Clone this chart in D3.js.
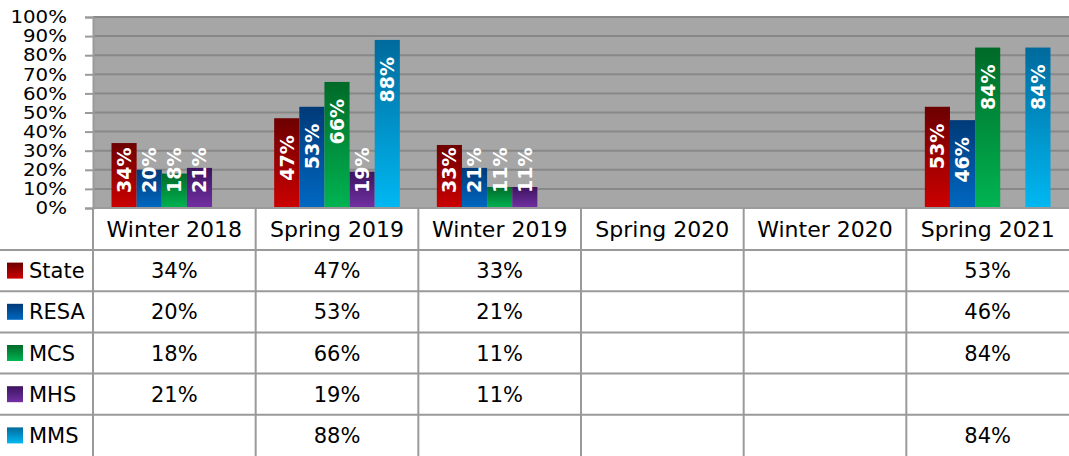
<!DOCTYPE html>
<html>
<head>
<meta charset="utf-8">
<script src="https://cdn.jsdelivr.net/npm/d3@7"></script>
<style>
  body { margin: 0; background: #fff; }
  svg { display: block; font-family: "DejaVu Sans", sans-serif; }
</style>
</head>
<body>
<svg id="chart"></svg>
<script>
// categories and series values (percent), null = no data
const categories = ["Winter 2018", "Spring 2019", "Winter 2019", "Spring 2020", "Winter 2020", "Spring 2021"];
const seriesNames = ["State", "RESA", "MCS", "MHS", "MMS"];
const stateVals = [34, 47, 33, null, null, 53];
const resaVals = [20, 53, 21, null, null, 46];
const mcsVals = [18, 66, 11, null, null, 84];
const mhsVals = [21, 19, 11, null, null, null];
const mmsVals = [null, 88, null, null, null, 84];
const yTicks = [0, 10, 20, 30, 40, 50, 60, 70, 80, 90, 100];

const allVals = [stateVals, resaVals, mcsVals, mhsVals, mmsVals];
// gradient stops per series: top (dark) -> bottom (bright)
const colorsTop = ["#6c0000", "#003a78", "#006a28", "#3c145e", "#006a9c"];
const colorsBottom = ["#cc0000", "#0068c2", "#00b452", "#7330a4", "#00b8f2"];

const width = 1069, height = 456;
const margin = {left: 93, right: 0, top: 17};
const plotBottom = 208;
const headerH = 42;
const rowH = (height - plotBottom - headerH) / seriesNames.length;
const lineCol = "#9a9a9a";

const svg = d3.select("#chart").attr("width", width).attr("height", height);

const defs = svg.append("defs");
seriesNames.forEach((s, i) => {
  const g = defs.append("linearGradient")
    .attr("id", "grad" + i)
    .attr("x1", 0).attr("y1", 0).attr("x2", 0).attr("y2", 1);
  g.append("stop").attr("offset", "0%").attr("stop-color", colorsTop[i]);
  g.append("stop").attr("offset", "100%").attr("stop-color", colorsBottom[i]);
});

const x = d3.scaleBand()
  .domain(categories)
  .range([margin.left, width - margin.right])
  .padding(0);

const xSub = d3.scaleBand()
  .domain(seriesNames)
  .range([18.5, x.bandwidth() - 18.5])
  .padding(0);

const y = d3.scaleLinear()
  .domain([0, 100])
  .range([plotBottom, margin.top]);

// plot background
svg.append("rect")
  .attr("x", margin.left)
  .attr("y", margin.top)
  .attr("width", width - margin.left - margin.right)
  .attr("height", plotBottom - margin.top)
  .attr("fill", "#a6a6a6");

// gridlines
svg.append("g")
  .selectAll("line")
  .data(yTicks)
  .enter().append("line")
  .attr("x1", margin.left)
  .attr("x2", width)
  .attr("y1", d => y(d))
  .attr("y2", d => y(d))
  .attr("stroke", "#888")
  .attr("stroke-width", 2);

// y axis
const yAxis = d3.axisLeft(y)
  .tickValues(yTicks)
  .tickFormat(d => d + "%")
  .tickSize(8)
  .tickPadding(18);

const yg = svg.append("g")
  .attr("transform", `translate(${margin.left},0)`)
  .call(yAxis);
yg.select(".domain").attr("stroke", lineCol).attr("stroke-width", 2);
yg.selectAll(".tick line").attr("stroke", lineCol).attr("stroke-width", 2);
// labels are a bit wide in the original, stretch them horizontally
yg.selectAll(".tick text")
  .attr("font-size", 18)
  .attr("fill", "#000")
  .attr("font-family", "DejaVu Sans, sans-serif")
  .attr("x", -26 / 1.1)
  .attr("transform", "scale(1.1,1)");

// bars
const barData = [];
allVals.forEach((vals, si) => {
  vals.forEach((v, ci) => {
    if (v !== null) barData.push({series: seriesNames[si], si: si, cat: categories[ci], value: v});
  });
});

const bars = svg.append("g")
  .selectAll("g")
  .data(barData)
  .enter().append("g");

bars.append("rect")
  .attr("x", d => x(d.cat) + xSub(d.series))
  .attr("width", xSub.bandwidth())
  .attr("y", d => y(d.value))
  .attr("height", d => plotBottom - y(d.value))
  .attr("fill", d => `url(#grad${d.si})`);

bars.append("text")
  .text(d => d.value + "%")
  .attr("fill", "#fff")
  .attr("font-weight", "bold")
  .attr("font-size", 19)
  .attr("dy", "0.36em")
  .attr("text-anchor", "start")
  .attr("transform", function (d) {
    const len = this.getComputedTextLength();
    const cx = x(d.cat) + xSub(d.series) + xSub.bandwidth() / 2;
    const bottom = Math.min(y(d.value) + 17 + len, plotBottom - 15);
    return `translate(${cx},${bottom}) rotate(-90)`;
  });

// data table
const table = svg.append("g");

// header labels
table.selectAll(".head")
  .data(categories)
  .enter().append("text")
  .attr("class", "head")
  .attr("x", d => x(d) + x.bandwidth() / 2)
  .attr("y", plotBottom + headerH / 2)
  .attr("dy", "0.36em")
  .attr("text-anchor", "middle")
  .attr("font-size", 22)
  .text(d => d);

const rows = table.selectAll(".row")
  .data(seriesNames)
  .enter().append("g")
  .attr("class", "row")
  .attr("transform", (d, i) => `translate(0,${plotBottom + headerH + i * rowH})`);

rows.append("rect")
  .attr("x", 7)
  .attr("y", rowH / 2 - 8)
  .attr("width", 16)
  .attr("height", 16)
  .attr("fill", (d, i) => `url(#grad${i})`);

rows.append("text")
  .attr("x", 29)
  .attr("y", rowH / 2)
  .attr("dy", "0.36em")
  .attr("font-size", 21)
  .text(d => d);

rows.each(function (s, si) {
  d3.select(this).selectAll(".cell")
    .data(allVals[si])
    .enter().append("text")
    .attr("class", "cell")
    .attr("x", (v, ci) => x(categories[ci]) + x.bandwidth() / 2)
    .attr("y", rowH / 2)
    .attr("dy", "0.36em")
    .attr("text-anchor", "middle")
    .attr("font-size", 21)
    .text(v => v === null ? "" : v + "%");
});

// table grid
seriesNames.forEach((s, i) => {
  table.append("line")
    .attr("x1", 0).attr("x2", width)
    .attr("y1", plotBottom + headerH + i * rowH)
    .attr("y2", plotBottom + headerH + i * rowH)
    .attr("stroke", lineCol).attr("stroke-width", 2);
});

table.selectAll(".vline")
  .data(categories)
  .enter().append("line")
  .attr("class", "vline")
  .attr("x1", d => x(d)).attr("x2", d => x(d))
  .attr("y1", plotBottom).attr("y2", height)
  .attr("stroke", lineCol).attr("stroke-width", 2);

// x axis line
svg.append("line")
  .attr("x1", margin.left).attr("x2", width)
  .attr("y1", plotBottom).attr("y2", plotBottom)
  .attr("stroke", lineCol).attr("stroke-width", 2);
</script>
</body>
</html>
